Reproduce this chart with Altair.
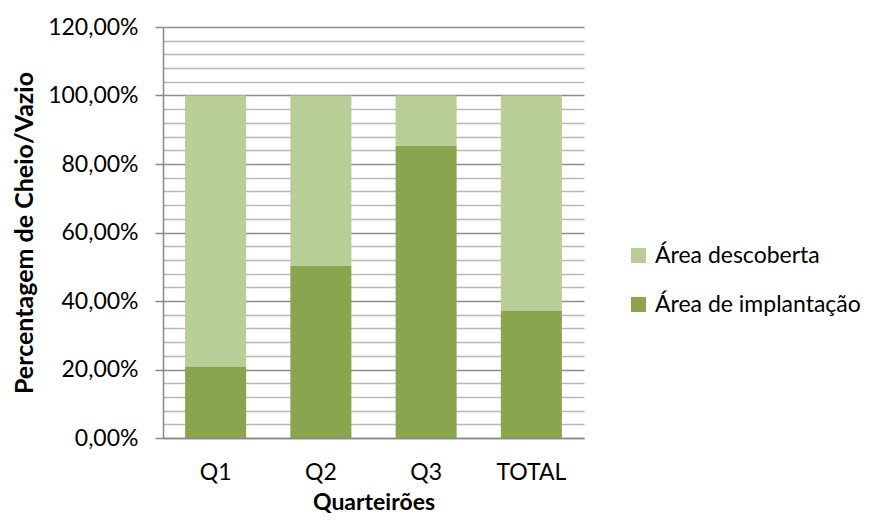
import altair as alt
import pandas as pd

categories = ["Q1", "Q2", "Q3", "TOTAL"]
implantacao = [20.7, 50.2, 85.3, 37.1]
descoberta = [79.3, 49.8, 14.7, 62.9]
series_names = ["Área descoberta", "Área de implantação"]
colors = ["#B9CD96", "#8BA54F"]

rows = []
for c, a, b in zip(categories, implantacao, descoberta):
    rows.append({"cat": c, "serie": series_names[1], "val": a, "ord": 0})
    rows.append({"cat": c, "serie": series_names[0], "val": b, "ord": 1})
df = pd.DataFrame(rows)

FONT = "Lato"
FS = 23

chart = alt.Chart(df).mark_bar().encode(
    x=alt.X("cat:N", sort=categories, title="Quarteirões",
            scale=alt.Scale(paddingInner=0.42, paddingOuter=0.21),
            axis=alt.Axis(labelAngle=0, ticks=False, labelPadding=23,
                          labelFontSize=FS, labelFont=FONT, labelColor="#000",
                          titleFont=FONT, titleFontSize=23, titleFontWeight="bold",
                          titleColor="#000", titlePadding=7,
                          domainColor="#888888", domainWidth=1.5, grid=False)),
    y=alt.Y("val:Q", stack="zero", title="Percentagem de Cheio/Vazio",
            scale=alt.Scale(domain=[0, 120], nice=False),
            axis=alt.Axis(values=list(range(0, 121, 4)),
                          labelExpr="datum.value % 20 === 0 ? replace(format(datum.value, '.2f'), '.', ',') + '%' : ''",
                          grid=True,
                          gridColor=alt.condition("datum.value % 20 === 0", alt.value("#8C8C8C"), alt.value("#B8B8B8")),
                          gridWidth=1.5,
                          tickColor=alt.condition("datum.value % 20 === 0", alt.value("#888888"), alt.value("transparent")),
                          tickSize=8, tickWidth=1.5, labelPadding=17,
                          labelFontSize=FS, labelFont=FONT, labelColor="#000",
                          titleFont=FONT, titleFontSize=25, titleFontWeight="bold",
                          titleColor="#000", titlePadding=10,
                          domainColor="#888888", domainWidth=1.5)),
    color=alt.Color("serie:N", scale=alt.Scale(domain=series_names, range=colors),
                    legend=alt.Legend(title=None, orient="none", legendX=464, legendY=217,
                                      symbolType="square", symbolSize=225,
                                      symbolStrokeWidth=0, labelFont=FONT,
                                      labelFontSize=23, labelColor="#000",
                                      labelLimit=400,
                                      rowPadding=25, labelOffset=5)),
    order=alt.Order("ord:Q"),
).properties(
    width=421, height=411,
    autosize=alt.AutoSizeParams(type="none"),
    padding={"left": 155, "top": 19, "right": 281, "bottom": 78},
).configure_view(stroke=None)

chart.save("out.html", embed_options={"renderer": "svg", "actions": False})
